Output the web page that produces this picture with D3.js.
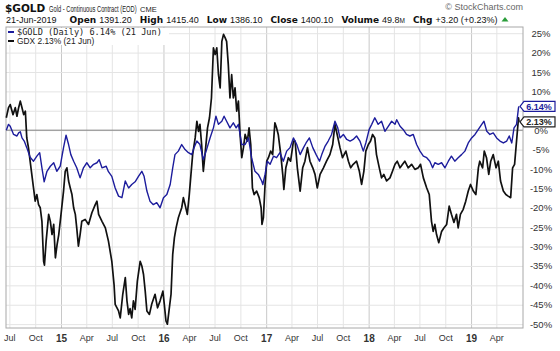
<!DOCTYPE html>
<html>
<head>
<meta charset="utf-8">
<script src="https://cdn.jsdelivr.net/npm/d3@7"></script>
<style>
  body { margin: 0; background: #fff; }
  svg { display: block; font-family: "Liberation Sans", Arial, sans-serif; }
</style>
</head>
<body>
<div id="chart"></div>
<script>
// $GOLD, % change since start of window
const goldDates = [
  '2014-06-20','2014-06-28','2014-07-04','2014-07-16','2014-07-28','2014-08-03','2014-08-09','2014-08-15',
  '2014-08-23','2014-09-01','2014-09-13','2014-09-25','2014-10-07','2014-10-17','2014-10-25','2014-11-02',
  '2014-11-12','2014-11-24','2014-12-06','2014-12-17','2014-12-29','2015-01-10','2015-01-19','2015-01-28',
  '2015-02-05','2015-02-15','2015-02-26','2015-03-10','2015-03-22','2015-04-03','2015-04-15','2015-04-27',
  '2015-05-09','2015-05-17','2015-05-27','2015-06-11','2015-06-19','2015-07-01','2015-07-13','2015-07-25',
  '2015-08-06','2015-08-18','2015-08-30','2015-09-10','2015-09-22','2015-10-04','2015-10-16','2015-10-24',
  '2015-11-03','2015-11-14','2015-11-26','2015-12-08','2015-12-20','2016-01-01','2016-01-13','2016-01-25',
  '2016-02-03','2016-02-11','2016-02-23','2016-03-06','2016-03-18','2016-03-30','2016-04-11','2016-04-19',
  '2016-04-29','2016-05-10','2016-05-22','2016-06-01','2016-06-15','2016-06-27','2016-07-06','2016-07-15',
  '2016-07-27','2016-08-04','2016-08-13','2016-08-25','2016-09-06','2016-09-16','2016-09-24','2016-10-06',
  '2016-10-18','2016-10-30','2016-11-10','2016-11-22','2016-12-04','2016-12-16','2016-12-20','2016-12-28',
  '2017-01-05','2017-01-15','2017-01-27','2017-02-07','2017-02-19','2017-03-03','2017-03-15','2017-03-27',
  '2017-04-08','2017-04-20','2017-05-02','2017-05-14','2017-05-23','2017-06-04','2017-06-16','2017-06-28',
  '2017-07-10','2017-07-18','2017-07-30','2017-08-10','2017-08-22','2017-09-03','2017-09-13','2017-09-21',
  '2017-10-03','2017-10-15','2017-10-27','2017-11-07','2017-11-19','2017-12-01','2017-12-13','2017-12-22',
  '2018-01-03','2018-01-12','2018-01-23','2018-02-04','2018-02-16','2018-02-28','2018-03-12','2018-03-24',
  '2018-04-05','2018-04-11','2018-04-23','2018-05-04','2018-05-16','2018-05-28','2018-06-09','2018-06-21',
  '2018-07-03','2018-07-15','2018-07-27','2018-08-07','2018-08-17','2018-08-25','2018-09-06','2018-09-18',
  '2018-09-30','2018-10-12','2018-10-23','2018-11-04','2018-11-16','2018-11-28','2018-12-10','2018-12-22',
  '2019-01-03','2019-01-15','2019-01-27','2019-02-08','2019-02-16','2019-02-26','2019-03-09','2019-03-21',
  '2019-04-02','2019-04-14','2019-04-26','2019-05-08','2019-05-17','2019-05-26','2019-06-03','2019-06-12',
  '2019-06-19','2019-06-21'
];
const goldPct = [
  0, 1.5, 1.0, -1.1, -1.5, -0.7, -0.4, -2.0,
  -2.8, -4.5, -7.0, -8.0, -6.7, -5.8, -9.7, -13.3,
  -10.6, -9.3, -8.4, -10.6, -9.3, -4.5, -1.3, -3.7,
  -6.3, -8.0, -9.7, -12.3, -9.7, -8.4, -9.7, -8.8,
  -8.4, -7.6, -9.7, -9.3, -10.7, -11.9, -14.9, -17.0,
  -17.4, -13.1, -14.9, -14.0, -13.3, -11.9, -10.6, -11.9,
  -15.7, -18.3, -19.2, -18.7, -20.0, -17.4, -16.6, -14.0,
  -9.7, -6.3, -5.4, -3.7, -5.0, -5.8, -6.3, -4.5,
  -2.8, -3.7, -7.6, -5.4, -2.0, 0.6, 3.6, 1.5,
  2.3, 3.6, 2.3, 0.6, 1.9, 0.6, 1.5, -3.7,
  -3.7, -2.0, -7.1, -10.6, -11.4, -13.1, -14.0, -11.4,
  -8.0, -8.8, -6.7, -7.1, -5.8, -8.0, -5.4, -4.5,
  -2.0, -3.7, -6.3, -4.5, -3.3, -2.0, -4.5, -6.3,
  -8.0, -6.3, -4.1, -2.8, -1.1, 2.3, 0.6, -2.0,
  -1.1, -2.4, -2.8, -2.4, -1.5, -2.8, -5.4, -3.3,
  0.2, 1.5, 3.2, 1.5, 2.3, -0.3, 1.0, 2.3,
  1.5, 2.7, 1.0, 0.2, -1.1, -1.5, -1.1, -3.7,
  -5.4, -6.7, -7.1, -8.0, -9.7, -8.4, -8.8, -8.4,
  -9.7, -8.0, -6.7, -8.0, -7.1, -6.3, -5.4, -3.3,
  -2.0, -1.1, 0.2, 1.5, 2.3, -0.3, -1.1, -0.7,
  -2.0, -2.8, -3.3, -2.8, -1.5, -3.3, 0.6, 1.5,
  5.8, 6.14
];

// GDX, % change since start of window
const gdxDates = [
  '2014-06-20','2014-06-28','2014-07-04','2014-07-14','2014-07-22','2014-07-28','2014-08-03','2014-08-09',
  '2014-08-15','2014-08-21','2014-08-27','2014-09-01','2014-09-07','2014-09-16','2014-09-25','2014-10-01',
  '2014-10-07','2014-10-13','2014-10-19','2014-10-25','2014-10-31','2014-11-03','2014-11-09','2014-11-18',
  '2014-11-24','2014-11-30','2014-12-06','2014-12-12','2014-12-18','2014-12-24','2015-01-01','2015-01-10',
  '2015-01-16','2015-01-22','2015-01-28','2015-02-03','2015-02-09','2015-02-15','2015-02-21','2015-02-26',
  '2015-03-04','2015-03-10','2015-03-16','2015-03-28','2015-04-09','2015-04-21','2015-05-03','2015-05-09',
  '2015-05-15','2015-05-27','2015-06-08','2015-06-19','2015-07-01','2015-07-09','2015-07-13','2015-07-25',
  '2015-07-31','2015-08-09','2015-08-18','2015-08-24','2015-08-30','2015-09-04','2015-09-10','2015-09-16',
  '2015-09-22','2015-09-30','2015-10-10','2015-10-16','2015-10-22','2015-10-28','2015-11-03','2015-11-12',
  '2015-11-20','2015-12-02','2015-12-11','2015-12-20','2015-12-30','2016-01-04','2016-01-10','2016-01-15',
  '2016-01-22','2016-01-28','2016-02-03','2016-02-09','2016-02-15','2016-02-23','2016-03-06','2016-03-12',
  '2016-03-18','2016-03-26','2016-04-02','2016-04-08','2016-04-14','2016-04-23','2016-04-29','2016-05-05',
  '2016-05-10','2016-05-16','2016-05-22','2016-05-28','2016-06-06','2016-06-13','2016-06-20','2016-06-27',
  '2016-07-03','2016-07-09','2016-07-15','2016-07-21','2016-07-27','2016-08-02','2016-08-08','2016-08-13',
  '2016-08-19','2016-08-25','2016-08-31','2016-09-06','2016-09-12','2016-09-18','2016-09-24','2016-09-30',
  '2016-10-06','2016-10-12','2016-10-18','2016-10-26','2016-11-01','2016-11-07','2016-11-13','2016-11-19',
  '2016-11-28','2016-12-07','2016-12-14','2016-12-17','2016-12-22','2016-12-28','2017-01-03','2017-01-09',
  '2017-01-17','2017-01-24','2017-02-01','2017-02-07','2017-02-13','2017-02-22','2017-03-01','2017-03-05',
  '2017-03-12','2017-03-21','2017-03-29','2017-04-08','2017-04-14','2017-04-22','2017-05-02','2017-05-11',
  '2017-05-19','2017-05-28','2017-06-06','2017-06-16','2017-06-24','2017-07-02','2017-07-12','2017-07-24',
  '2017-08-04','2017-08-16','2017-08-26','2017-09-03','2017-09-11','2017-09-21','2017-09-30','2017-10-12',
  '2017-10-21','2017-10-29','2017-11-07','2017-11-19','2017-11-29','2017-12-07','2017-12-15','2017-12-22',
  '2017-12-31','2018-01-08','2018-01-15','2018-01-23','2018-01-29','2018-02-08','2018-02-16','2018-02-24',
  '2018-03-06','2018-03-18','2018-03-27','2018-04-05','2018-04-13','2018-04-23','2018-05-02','2018-05-10',
  '2018-05-22','2018-06-03','2018-06-15','2018-06-27','2018-07-05','2018-07-15','2018-07-27','2018-08-05',
  '2018-08-13','2018-08-19','2018-08-25','2018-08-31','2018-09-08','2018-09-18','2018-09-26','2018-10-06',
  '2018-10-15','2018-10-23','2018-11-01','2018-11-10','2018-11-16','2018-11-24','2018-12-04','2018-12-13',
  '2018-12-22','2018-12-30','2019-01-09','2019-01-18','2019-01-27','2019-02-01','2019-02-11','2019-02-17',
  '2019-02-25','2019-03-05','2019-03-12','2019-03-21','2019-03-31','2019-04-08','2019-04-16','2019-04-26',
  '2019-05-05','2019-05-13','2019-05-22','2019-05-29','2019-06-05','2019-06-12','2019-06-19','2019-06-21'
];
const gdxPct = [
  3.2, 5.8, 6.6, 4.0, 5.8, 3.6, 5.8, 7.5,
  5.8, 4.0, 4.9, -2.0, -4.5, -9.7, -14.9, -18.3,
  -16.6, -19.2, -20.0, -23.5, -33.8, -34.8, -28.6, -21.7,
  -23.5, -26.9, -24.3, -32.9, -29.5, -26.9, -21.7, -15.7,
  -10.6, -9.7, -13.1, -14.9, -16.6, -20.0, -21.7, -25.2,
  -29.9, -26.9, -23.5, -23.0, -24.3, -21.3, -19.2, -18.3,
  -21.7, -23.5, -25.2, -28.6, -33.8, -39.8, -44.9, -46.6,
  -48.4, -42.3, -38.0, -44.0, -47.5, -46.0, -48.4, -44.0,
  -46.2, -38.9, -33.8, -35.0, -37.2, -41.5, -46.6, -47.5,
  -44.9, -42.3, -45.8, -44.0, -41.5, -44.9, -49.2, -50.0,
  -45.8, -42.3, -32.0, -27.7, -25.2, -22.6, -20.0, -17.4,
  -19.2, -21.7, -16.6, -11.4, -6.3, -2.0, 2.3, -0.3,
  1.5, -3.7, -10.6, -6.3, 0.6, 3.2, 8.3, 21.2,
  19.5, 21.2, 14.3, 10.9, 22.9, 24.7, 23.8, 22.9,
  16.9, 8.3, 14.3, 8.3, 10.9, 4.9, 7.5, -1.1,
  -7.1, -4.5, -1.1, -2.8, 0.6, -3.7, -14.9, -16.6,
  -15.7, -17.4, -20.0, -24.3, -22.6, -14.0, -8.0, -7.1,
  -5.4, -6.3, 1.9, 0.6, -1.1, -6.3, -11.4, -15.3,
  -9.7, -7.1, -8.0, -2.8, -2.8, -9.7, -15.7, -9.7,
  -8.0, -4.5, -8.0, -9.7, -11.4, -14.9, -11.4, -9.7,
  -8.0, -6.3, -3.7, 1.5, -1.1, -4.5, -7.1, -5.4,
  -8.0, -9.7, -8.8, -8.0, -10.6, -14.0, -10.6, -5.4,
  -3.7, -2.8, -1.1, -2.0, -6.3, -9.7, -12.3, -11.4,
  -13.1, -12.3, -10.6, -8.8, -8.0, -9.7, -8.8, -8.0,
  -9.7, -8.8, -10.1, -9.7, -8.8, -12.3, -14.9, -16.6,
  -23.5, -26.1, -24.3, -26.9, -29.0, -26.1, -25.2, -24.3,
  -19.6, -21.7, -23.8, -21.7, -25.2, -21.7, -20.4, -18.3,
  -15.7, -14.0, -15.7, -16.6, -9.7, -8.0, -9.7, -5.4,
  -7.1, -11.4, -8.0, -6.3, -9.7, -8.0, -13.1, -15.7,
  -16.6, -17.0, -17.4, -9.7, -8.8, -2.8, 3.2, 2.13
];

const pctTicks = [25, 20, 15, 10, 5, 0, -5, -10, -15, -20, -25, -30, -35, -40, -45, -50];

// quote line: label / value pairs
const quoteLabels = ['Open', 'High', 'Low', 'Close', 'Volume', 'Chg'];
const quoteValues = ['1391.20', '1415.40', '1386.10', '1400.10', '49.8M', '+3.20 (+0.23%)'];
const quoteDate = '21-Jun-2019';

const width = 560;
const height = 351;
const plotL = 6, plotR = 523, plotT = 27, plotB = 328;

const parse = d3.utcParse('%Y-%m-%d');
const gold = goldDates.map((d, i) => ({ date: parse(d), v: goldPct[i] }));
const gdx = gdxDates.map((d, i) => ({ date: parse(d), v: gdxPct[i] }));
const lastDate = parse(goldDates[goldDates.length - 1]);
const lastGold = goldPct[goldPct.length - 1];
const lastGdx = gdxPct[gdxPct.length - 1];

const svg = d3.select('#chart')
              .append('svg')
              .attr('width', width)
              .attr('height', height);

const x = d3.scaleUtc()
            .domain([parse('2014-06-19'), parse('2019-07-05')])
            .range([plotL, plotR]);

const y = d3.scaleLinear()
            .domain([-51, 26.6])
            .range([plotB, plotT]);

const quarters = d3.utcMonth.every(3).range(x.domain()[0], lastDate);

// vertical grid
svg.append('g')
   .attr('transform', 'translate(0,' + plotB + ')')
   .call(d3.axisBottom(x).tickValues(quarters).tickSize(-(plotB - plotT)).tickFormat(''))
   .call(g => g.select('.domain').remove())
   .call(g => g.selectAll('.tick line')
               .attr('stroke', d => d.getUTCMonth() === 0 ? '#c8c8c8' : '#e4e4e4'));

// horizontal grid
svg.append('g')
   .attr('transform', 'translate(' + plotL + ',0)')
   .call(d3.axisLeft(y).tickValues(pctTicks).tickSize(-(plotR - plotL)).tickFormat(''))
   .call(g => g.select('.domain').remove())
   .call(g => g.selectAll('.tick line').attr('stroke', '#e4e4e4'));

// zero line
svg.append('line')
   .attr('x1', plotL).attr('x2', plotR)
   .attr('y1', y(0)).attr('y2', y(0))
   .attr('stroke', '#808080');

svg.append('rect')
   .attr('x', plotL).attr('y', plotT)
   .attr('width', plotR - plotL).attr('height', plotB - plotT)
   .attr('fill', 'none')
   .attr('stroke', '#a8a8a8');

// x labels
svg.append('g')
   .attr('transform', 'translate(0,' + plotB + ')')
   .call(d3.axisBottom(x).tickValues(quarters).tickSize(0).tickPadding(7)
           .tickFormat(d => d.getUTCMonth() === 0 ? d3.utcFormat('%y')(d) : d3.utcFormat('%b')(d)))
   .call(g => g.select('.domain').remove())
   .call(g => g.selectAll('text')
               .attr('font-family', '"Liberation Sans", Arial, sans-serif')
               .attr('fill', '#333')
               .attr('font-weight', d => d.getUTCMonth() === 0 ? 'bold' : 'normal')
               .attr('font-size', d => d.getUTCMonth() === 0 ? 10 : 9));

// y labels (the one hidden behind the $GOLD tag is left out)
const labelTicks = pctTicks.filter(t => Math.abs(y(t) - y(lastGold)) > 6 && Math.abs(y(t) - y(lastGdx)) > 6);
svg.append('g')
   .attr('transform', 'translate(' + plotR + ',0)')
   .call(d3.axisRight(y).tickValues(labelTicks).tickSize(0).tickFormat(d => d + '%'))
   .call(g => g.select('.domain').remove())
   .call(g => g.selectAll('text')
               .attr('x', 18)
               .attr('text-anchor', 'middle')
               .attr('font-family', '"Liberation Sans", Arial, sans-serif')
               .attr('font-size', 9.5)
               .attr('fill', '#333'));

const line = d3.line()
               .x(d => x(d.date))
               .y(d => y(d.v));

svg.append('path')
   .datum(gdx)
   .attr('d', line)
   .attr('fill', 'none')
   .attr('stroke', '#111')
   .attr('stroke-width', 1.7)
   .attr('stroke-linejoin', 'round');

svg.append('path')
   .datum(gold)
   .attr('d', line)
   .attr('fill', 'none')
   .attr('stroke', '#1c1c9c')
   .attr('stroke-width', 1.4)
   .attr('stroke-linejoin', 'round');

// legend
svg.append('rect').attr('x', plotL + 1).attr('y', plotT + 1).attr('width', 162).attr('height', 17).attr('fill', '#fff');
svg.append('line').attr('x1', 8).attr('x2', 14).attr('y1', 32).attr('y2', 32)
   .attr('stroke', '#1c1c9c').attr('stroke-width', 2);
svg.append('text').attr('x', 17).attr('y', 34.8)
   .attr('font-family', '"DejaVu Sans Mono", monospace').attr('font-size', 8.6).attr('fill', '#222')
   .text('$GOLD (Daily) ' + lastGold.toFixed(2) + '% (21 Jun)');
svg.append('line').attr('x1', 8).attr('x2', 14).attr('y1', 41).attr('y2', 41)
   .attr('stroke', '#111').attr('stroke-width', 2);
svg.append('text').attr('x', 17).attr('y', 44)
   .attr('font-size', 8.4).attr('fill', '#222')
   .text('GDX ' + lastGdx.toFixed(2) + '% (21 Jun)');

// last value tags
function tag(v, color) {
  const yc = y(v);
  svg.append('path')
     .attr('d', 'M' + (plotR - 3) + ',' + yc + 'L' + (plotR + 1) + ',' + (yc - 5) + 'H555V' + (yc + 5) + 'H' + (plotR + 1) + 'Z')
     .attr('fill', '#fff')
     .attr('stroke', color)
     .attr('stroke-width', 1.2);
  svg.append('text')
     .attr('x', 539).attr('y', yc + 3.3)
     .attr('text-anchor', 'middle')
     .attr('font-size', 9).attr('font-weight', 'bold')
     .attr('fill', color)
     .text(v.toFixed(2) + '%');
}
tag(lastGdx, '#222');
tag(lastGold, '#1c1c9c');

// title line
svg.append('text').attr('x', 5).attr('y', 11.5).attr('fill', '#111')
   .attr('font-family', '"DejaVu Sans", Verdana, sans-serif')
   .attr('font-weight', 'bold').attr('font-size', 10.5).text('$GOLD');
svg.append('text')
   .attr('transform', 'translate(49,11.5) scale(0.64,1)')
   .attr('font-size', 9).attr('fill', '#222')
   .text('Gold - Continuous Contract (EOD)');
svg.append('text').attr('x', 140).attr('y', 11.5).attr('font-size', 7.5).attr('fill', '#222')
   .text('CME');

// quote line, laid out left to right
let cx = 6;
const dateText = svg.append('text').attr('x', cx).attr('y', 23).attr('font-size', 9).attr('fill', '#111').text(quoteDate);
cx += dateText.node().getComputedTextLength() + 13;
quoteLabels.forEach((lab, i) => {
  const l = svg.append('text').attr('x', cx).attr('y', 23)
               .attr('font-family', '"DejaVu Sans", Verdana, sans-serif')
               .attr('font-weight', 'bold').attr('font-size', 9).attr('fill', '#111')
               .text(lab);
  cx += l.node().getComputedTextLength() + 3;
  const val = quoteValues[i];
  const t = svg.append('text').attr('x', cx).attr('y', 23).attr('font-size', 9).attr('fill', '#111');
  if (val.endsWith('M')) {
    t.append('tspan').text(val.slice(0, -1));
    t.append('tspan').attr('font-size', 6.5).text('M');
  } else {
    t.text(val);
  }
  cx += t.node().getComputedTextLength() + 8;
});
svg.append('path')
   .attr('d', 'M' + (cx - 4) + ',21.5L' + (cx - 0.5) + ',17L' + (cx + 3) + ',21.5Z')
   .attr('fill', '#2a9d3a');

svg.append('text')
   .attr('x', 523).attr('y', 9.5)
   .attr('text-anchor', 'end')
   .attr('font-size', 9)
   .attr('fill', '#666')
   .text('\u00A9 StockCharts.com');
</script>
</body>
</html>
